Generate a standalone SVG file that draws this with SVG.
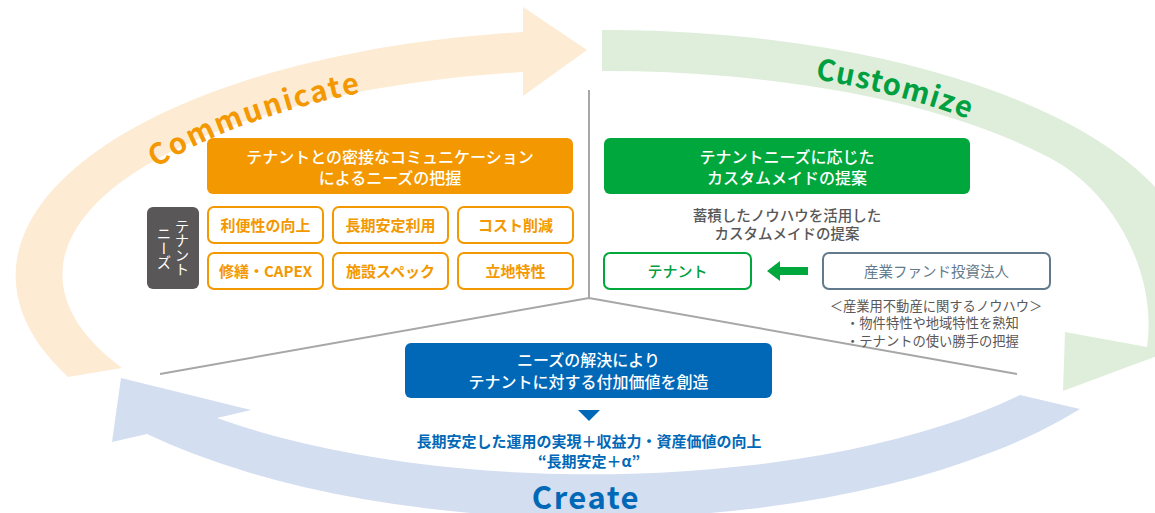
<svg xmlns="http://www.w3.org/2000/svg" width="1155" height="513" viewBox="0 0 1155 513">
<style>
text{font-family:"Noto Sans CJK JP","Noto Sans",sans-serif;}
.hd{fill:#fff;font-size:16px;font-weight:500;text-anchor:middle;}
.ob rect{fill:#fff;stroke:#F39800;stroke-width:2;}
.ob text{fill:#F39800;font-size:15px;font-weight:bold;text-anchor:middle;}
.gr{fill:#595757;font-size:14.5px;font-weight:500;text-anchor:middle;}
.sm{fill:#595757;font-size:13.3px;}
.big{font-size:29px;font-weight:bold;}
.line{fill:none;stroke:#A7A7A7;stroke-width:2;}
</style>
<defs>
<path id="pc" d="M156,168 A526,207 0 0 1 606,69"/>
<path id="pg" d="M815,79 A533,214 0 0 1 1139,276"/>
</defs>
<rect width="1155" height="513" fill="#fff"/>
<g id="cycle">
<path id="band-communicate" fill="#FDEBD3" d="M68,377 A589,246 0 0 1 523,32 L523,7 L587,50 L523,96 L523,72 A543,205 0 0 0 122,368 Z"/>
<path id="band-customize" fill="#DFEEDB" d="M602,30 A589,246 0 0 1 1195,276 L1205,300 L1205,338 L1063,391 L1065,332 L1147,347 C1158,270 1110,185 1042,154 A543,205 0 0 0 602,71 Z"/>
<path id="band-create" fill="#D3DEF0" d="M1020,395 L1080,409 A589,246 0 0 1 147,434 L112,442 L121,378 L251,410 L217,418 A543,205 0 0 0 1020,395 Z"/>
<text class="big" fill="#F39800" letter-spacing="2"><textPath href="#pc">Communicate</textPath></text>
<text class="big" fill="#00A040" letter-spacing="1.2"><textPath href="#pg">Customize</textPath></text>
<text x="586" y="509" fill="#0068B7" font-size="31" font-weight="bold" letter-spacing="1.5" text-anchor="middle">Create</text>
</g>
<g id="connectors">
<path class="line" d="M589,90 L589,298"/>
<path class="line" d="M160,374 L589,298 L1017,374"/>
<path d="M767,271 L780,261 L780,267 L808,267 L808,275 L780,275 L780,281 Z" fill="#00A73C"/>
<path d="M578,410 L600,410 L589,421 Z" fill="#0068B7"/>
</g>
<g id="communicate-head">
<rect x="207" y="138" width="366" height="56" rx="6" fill="#F39800"/>
<text class="hd" x="390" y="163">テナントとの密接なコミュニケーション</text>
<text class="hd" x="390" y="184">によるニーズの把握</text>
</g>
<g id="tenant-needs">
<rect x="147" y="207" width="52" height="82" rx="6" fill="#595757"/>
<text x="182" y="248" fill="#fff" font-size="14.5" writing-mode="vertical-rl" text-anchor="middle">テナント</text>
<text x="164" y="248" fill="#fff" font-size="14.5" writing-mode="vertical-rl" text-anchor="middle">ニーズ</text>
</g>
<g id="need-1" class="ob"><rect x="208" y="207" width="115" height="36" rx="6"/><text x="265.5" y="230.7">利便性の向上</text></g>
<g id="need-2" class="ob"><rect x="333" y="207" width="115" height="36" rx="6"/><text x="390.5" y="230.7">長期安定利用</text></g>
<g id="need-3" class="ob"><rect x="458" y="207" width="115" height="36" rx="6"/><text x="515.5" y="230.7">コスト削減</text></g>
<g id="need-4" class="ob"><rect x="208" y="253" width="115" height="36" rx="6"/><text x="265.5" y="276.7">修繕・CAPEX</text></g>
<g id="need-5" class="ob"><rect x="333" y="253" width="115" height="36" rx="6"/><text x="390.5" y="276.7">施設スペック</text></g>
<g id="need-6" class="ob"><rect x="458" y="253" width="115" height="36" rx="6"/><text x="515.5" y="276.7">立地特性</text></g>
<g id="customize-head">
<rect x="604" y="138" width="366" height="56" rx="6" fill="#00A73C"/>
<text class="hd" x="787" y="163">テナントニーズに応じた</text>
<text class="hd" x="787" y="184">カスタムメイドの提案</text>
</g>
<g id="customize-note">
<text class="gr" x="787" y="220.5">蓄積したノウハウを活用した</text>
<text class="gr" x="787" y="239">カスタムメイドの提案</text>
</g>
<g id="tenant">
<rect x="604" y="253" width="147" height="36" rx="6" fill="#fff" stroke="#00A73C" stroke-width="2"/>
<text x="677.5" y="276.7" fill="#00A040" font-size="15" font-weight="500" text-anchor="middle">テナント</text>
</g>
<g id="fund">
<rect x="823" y="253" width="227" height="36" rx="6" fill="#fff" stroke="#627A8B" stroke-width="2"/>
<text x="936.5" y="276.5" fill="#627A8B" font-size="14.5" text-anchor="middle">産業ファンド投資法人</text>
</g>
<g id="fund-note">
<text class="sm" x="936" y="311" text-anchor="middle">＜産業用不動産に関するノウハウ＞</text>
<text class="sm" x="846" y="328">・物件特性や地域特性を熟知</text>
<text class="sm" x="846" y="346">・テナントの使い勝手の把握</text>
</g>
<g id="create-head">
<rect x="405" y="343" width="367" height="55" rx="6" fill="#0068B7"/>
<text class="hd" x="588.5" y="366">ニーズの解決により</text>
<text class="hd" x="588.5" y="388">テナントに対する付加価値を創造</text>
</g>
<g id="create-result">
<text x="589" y="447" fill="#0068B7" font-size="15" font-weight="bold" text-anchor="middle">長期安定した運用の実現＋収益力・資産価値の向上</text>
<text x="589" y="466.5" fill="#0068B7" font-size="15" font-weight="bold" text-anchor="middle">“長期安定＋α”</text>
</g>
</svg>
